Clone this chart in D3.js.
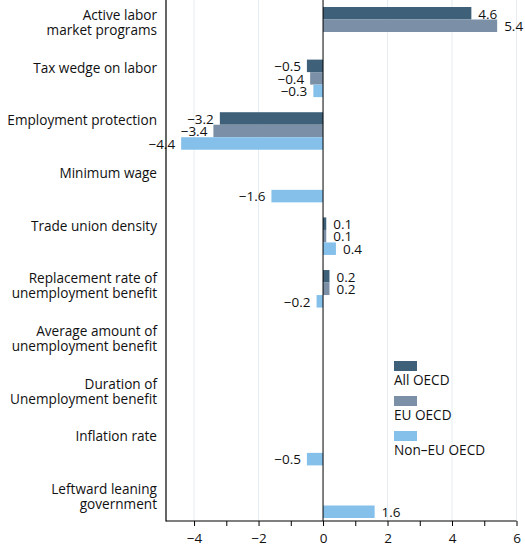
<!DOCTYPE html>
<html>
<head>
<meta charset="utf-8">
<script src="https://cdn.jsdelivr.net/npm/d3@7"></script>
<style>
  body { margin: 0; background: #fff; }
  svg text { font-family: "Open Sans", sans-serif; fill: #111; }
  .cat { font-size: 13.6px; }
  .val { font-size: 13.5px; }
  .legend text { font-size: 13.6px; }
  .x.axis text { font-size: 13.5px; }
</style>
</head>
<body>
<svg width="525" height="548"></svg>
<script>
// **** Data ****

var categories = [
    ['Active labor', 'market programs'],
    ['Tax wedge on labor'],
    ['Employment protection'],
    ['Minimum wage'],
    ['Trade union density'],
    ['Replacement rate of', 'unemployment benefit'],
    ['Average amount of', 'unemployment benefit'],
    ['Duration of', 'Unemployment benefit'],
    ['Inflation rate'],
    ['Leftward leaning', 'government']
];

var seriesNames = ['All OECD', 'EU OECD', 'Non\u2013EU OECD'];

// null = no bar
var allOECD = [4.6, -0.5, -3.2, null, 0.1, 0.2, null, null, null, null];
var euOECD = [5.4, -0.4, -3.4, null, 0.1, 0.2, null, null, null, null];
var nonEuOECD = [null, -0.3, -4.4, -1.6, 0.4, -0.2, null, null, -0.5, 1.6];

var xTicks = [-4, -3, -2, -1, 0, 1, 2, 3, 4, 5, 6];

var colors = ['#3e6079', '#7b90a6', '#85c0ea'];

var series = [allOECD, euOECD, nonEuOECD];

// **** Scales ****

var svg = d3.select('svg');

var xScale = d3.scaleLinear().domain([-4.87, 6]).range([166, 516.5]);

var yScale = d3.scaleBand()
    .domain(d3.range(categories.length))
    .range([0, 525])
    .paddingInner(0.287)
    .paddingOuter(0.133);

var subScale = d3.scaleBand()
    .domain(d3.range(series.length))
    .range([0, yScale.bandwidth()]);

var axisY = 521;

// gridlines
svg.append('g').selectAll('line')
    .data([-4, -2, 2, 4, 6])
    .enter().append('line')
    .attr('x1', d => xScale(d)).attr('x2', d => xScale(d))
    .attr('y1', 0).attr('y2', axisY)
    .attr('stroke', '#e4edf3').attr('stroke-width', 1);

// **** Bars ****

var rows = [];
series.forEach(function(s, si) {
    s.forEach(function(v, ci) {
        if (v !== null) rows.push({ s: si, c: ci, v: v });
    });
});

svg.append('g').selectAll('rect')
    .data(rows)
    .enter().append('rect')
    .attr('x', d => xScale(Math.min(0, d.v)))
    .attr('width', d => Math.abs(xScale(d.v) - xScale(0)))
    .attr('y', d => yScale(d.c) + subScale(d.s))
    .attr('height', subScale.bandwidth())
    .style('fill', d => colors[d.s]);

svg.append('g').selectAll('text')
    .data(rows)
    .enter().append('text')
    .attr('class', 'val')
    .attr('x', d => d.v >= 0 ? xScale(d.v) + 7 : xScale(d.v) - 6)
    .attr('y', d => yScale(d.c) + subScale(d.s) + subScale.bandwidth() - 1)
    .attr('text-anchor', d => d.v >= 0 ? 'start' : 'end')
    .text(d => d3.format('.1f')(d.v).replace('-', '\u2212'));

// zero line
svg.append('line')
    .attr('x1', xScale(0)).attr('x2', xScale(0))
    .attr('y1', 0).attr('y2', axisY)
    .attr('stroke', '#000').attr('stroke-width', 1);

// **** Category labels ****

var cats = svg.append('g').selectAll('text')
    .data(categories)
    .enter().append('text')
    .attr('class', 'cat')
    .attr('text-anchor', 'end')
    .attr('transform', (d, i) => 'translate(157,' + (yScale(i) + yScale.bandwidth() / 2 - 5.5) + ')');

cats.selectAll('tspan')
    .data(d => d)
    .enter().append('tspan')
    .attr('x', 0)
    .attr('y', (d, i) => i * 15)
    .text(d => d);

// **** Axes ****

svg.append('line')
    .attr('x1', 166).attr('x2', 166)
    .attr('y1', 0).attr('y2', axisY + 0.5)
    .attr('stroke', '#000').attr('stroke-width', 1.2);

var xAxis = svg.append('g').attr('class', 'x axis')
    .attr('transform', 'translate(0,' + axisY + ')')
    .call(d3.axisBottom(xScale)
        .tickValues(xTicks)
        .tickSize(5)
        .tickPadding(7)
        .tickFormat(d => d % 2 === 0 ? String(d).replace('-', '\u2212') : ''));

xAxis.select('.domain').attr('d', 'M166,0H516.5').attr('stroke-width', 1.2);
xAxis.selectAll('.tick line').attr('stroke-width', 1);
xAxis.selectAll('text').style('fill', '#111');

// **** Legend ****

var legend = svg.append('g').attr('class', 'legend')
    .attr('transform', 'translate(394,361)');

var items = legend.selectAll('g')
    .data(seriesNames)
    .enter().append('g')
    .attr('transform', (d, i) => 'translate(0,' + i * 35 + ')');

items.append('rect')
    .attr('width', 23).attr('height', 10)
    .style('fill', (d, i) => colors[i]);

items.append('text')
    .attr('x', 0).attr('y', 24)
    .text(d => d);
</script>
</body>
</html>
